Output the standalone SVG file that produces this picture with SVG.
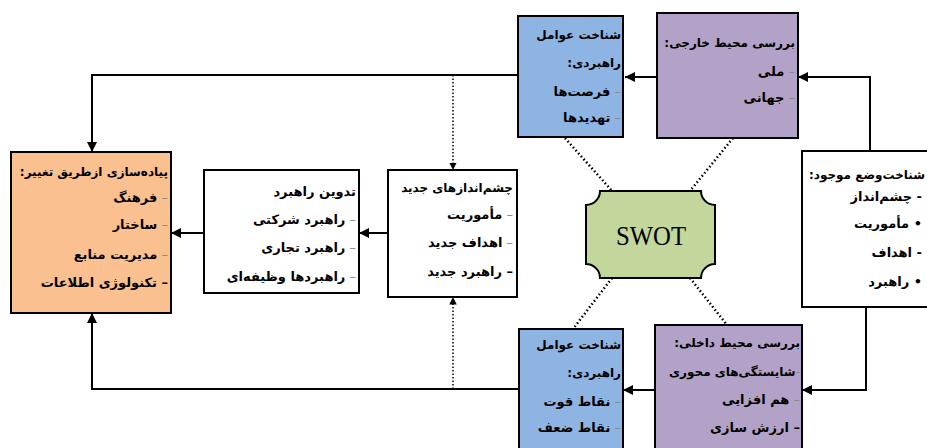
<svg xmlns="http://www.w3.org/2000/svg" width="927" height="448" viewBox="0 0 927 448">
<defs>
<marker id="ah" viewBox="0 0 10 10" refX="10" refY="5" markerWidth="5" markerHeight="5" orient="auto" markerUnits="strokeWidth"><path d="M0,0 L10,5 L0,10 Z" fill="#000"/></marker>
<style>
.box{stroke:#000;stroke-width:2}
.blue{fill:#8EB4E3}.purple{fill:#B3A2C7}.orange{fill:#FAC090}.white{fill:#fff}.green{fill:#C3D69B}
.t{font-family:"DejaVu Sans",sans-serif;font-size:12px;font-weight:bold;fill:#000;text-anchor:end}
.i{font-size:13px}
.d{fill:#888;font-weight:normal}
.c{fill:none;stroke:#000;stroke-width:2}
.dot{fill:none;stroke:#000;stroke-width:2.5;stroke-dasharray:1.5 2.5}
.dv{fill:none;stroke:#000;stroke-width:1.5;stroke-dasharray:1.5 2}
</style>
</defs>
<rect width="927" height="448" fill="#fff"/>
<g id="connectors">
<path class="c" d="M657,77 H625" marker-end="url(#ah)"/>
<path class="c" d="M518,75 H92 V152" marker-end="url(#ah)"/>
<path class="dv" d="M453,75 V170" marker-end="url(#ah)"/>
<path class="c" d="M388,233 H359" marker-end="url(#ah)"/>
<path class="c" d="M204,233 H171" marker-end="url(#ah)"/>
<path class="c" d="M519,389 H92 V313" marker-end="url(#ah)"/>
<path class="dv" d="M453,389 V297" marker-end="url(#ah)"/>
<path class="c" d="M655,390 H623" marker-end="url(#ah)"/>
<path class="c" d="M870,151 V77 H798" marker-end="url(#ah)"/>
<path class="c" d="M866,307 V390 H802" marker-end="url(#ah)"/>
<path class="dot" d="M565,138 L612,191"/>
<path class="dot" d="M733,138 L690,191"/>
<path class="dot" d="M612,278 L573,329"/>
<path class="dot" d="M690,278 L727,325"/>
</g>
<g id="swot">
<path class="box green" d="M600,191 H701 A14,14 0 0 0 715,205 V264 A14,14 0 0 0 701,278 H600 A14,14 0 0 0 586,264 V205 A14,14 0 0 0 600,191 Z"/>
<text x="651" y="245" font-family="Liberation Serif,serif" font-size="28" text-anchor="middle" textLength="70" lengthAdjust="spacingAndGlyphs" fill="#000">SWOT</text>
</g>
<g id="blue-top">
<rect class="box blue" x="518" y="16" width="105" height="121"/>
<text class="t" x="621" y="39">شناخت عوامل</text>
<text class="t" x="621" y="67">راهبردی:&#x200F;</text>
<text class="t i" x="621" y="96">فرصت‌ها<tspan class="d"> –</tspan></text>
<text class="t i" x="621" y="122">تهدیدها<tspan class="d"> –</tspan></text>
</g>
<g id="purple-top">
<rect class="box purple" x="657" y="13" width="141" height="125"/>
<text class="t" x="795" y="47">بررسی محیط خارجی:&#x200F;</text>
<text class="t i" x="795" y="76">ملی<tspan class="d"> –</tspan></text>
<text class="t i" x="795" y="102">جهانی<tspan class="d"> –</tspan></text>
</g>
<g id="existing">
<rect class="box white" x="802" y="151" width="140" height="156"/>
<text class="t" x="925" y="179">شناخت‌وضع موجود:&#x200F;</text>
<text class="t i" x="922" y="201">چشم‌انداز -</text>
<text class="t i" x="922" y="228">مأموریت •</text>
<text class="t i" x="922" y="257">اهداف -</text>
<text class="t i" x="922" y="286">راهبرد •</text>
</g>
<g id="chesm">
<rect class="box white" x="388" y="170" width="129" height="127"/>
<text class="t" x="513" y="192">چشم‌اندازهای جدید</text>
<text class="t i" x="513" y="219">مأموریت<tspan class="d"> –</tspan></text>
<text class="t i" x="513" y="247">اهداف جدید<tspan class="d"> –</tspan></text>
<text class="t i" x="513" y="276">راهبرد جدید –</text>
</g>
<g id="tadvin">
<rect class="box white" x="204" y="170" width="155" height="123"/>
<text class="t i" x="356" y="196">تدوین راهبرد</text>
<text class="t i" x="356" y="224">راهبرد شرکتی<tspan class="d"> –</tspan></text>
<text class="t i" x="356" y="252">راهبرد تجاری<tspan class="d"> –</tspan></text>
<text class="t i" x="356" y="281">راهبردها وظیفه‌ای<tspan class="d"> –</tspan></text>
</g>
<g id="orange">
<rect class="box orange" x="11" y="152" width="160" height="161"/>
<text class="t" x="168" y="176">پیاده‌سازی ازطریق تغییر:&#x200F;</text>
<text class="t i" x="168" y="202">فرهنگ<tspan class="d"> –</tspan></text>
<text class="t i" x="168" y="229">ساختار<tspan class="d"> –</tspan></text>
<text class="t i" x="168" y="259">مدیریت منابع<tspan class="d"> –</tspan></text>
<text class="t i" x="168" y="287">تکنولوژی اطلاعات –</text>
</g>
<g id="blue-bottom">
<rect class="box blue" x="519" y="329" width="104" height="130"/>
<text class="t" x="621" y="349">شناخت عوامل</text>
<text class="t" x="621" y="377">راهبردی:&#x200F;</text>
<text class="t i" x="621" y="406">نقاط قوت<tspan class="d"> –</tspan></text>
<text class="t i" x="621" y="432">نقاط ضعف<tspan class="d"> –</tspan></text>
</g>
<g id="purple-bottom">
<rect class="box purple" x="655" y="325" width="147" height="130"/>
<text class="t" x="800" y="347">بررسی محیط داخلی:&#x200F;</text>
<text class="t" x="800" y="376">شایستگی‌های محوری<tspan class="d">-</tspan></text>
<text class="t i" x="800" y="404">هم افزایی<tspan class="d"> –</tspan></text>
<text class="t i" x="800" y="432">ارزش سازی –</text>
</g>
</svg>
